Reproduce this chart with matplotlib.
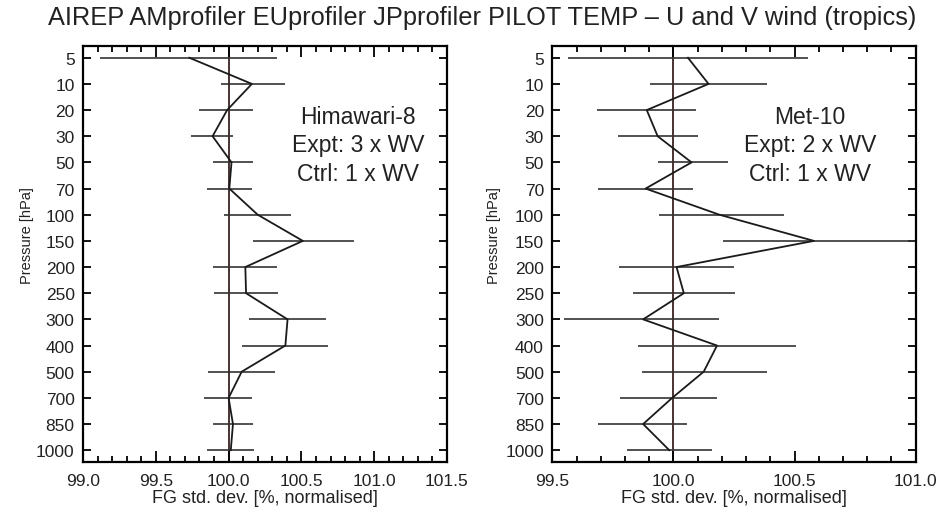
import numpy as np
import matplotlib
matplotlib.use('Agg')
import matplotlib.pyplot as plt
from matplotlib.ticker import MultipleLocator, FormatStrFormatter

plt.rcParams['font.family'] = ['Liberation Sans', 'DejaVu Sans']

# Pressure levels (categorical, evenly spaced)
levels = ['5', '10', '20', '30', '50', '70', '100', '150', '200',
          '250', '300', '400', '500', '700', '850', '1000']

# Himawari-8: mean and error bar ends
mean_h8 = [99.73, 100.16, 99.99, 99.89, 100.02, 100.005, 100.20, 100.51,
           100.115, 100.12, 100.405, 100.39, 100.09, 100.0, 100.03, 100.015]
lo_h8 = [99.12, 99.95, 99.80, 99.74, 99.89, 99.855, 99.97, 100.17,
         99.895, 99.90, 100.14, 100.095, 99.86, 99.83, 99.895, 99.855]
hi_h8 = [100.33, 100.39, 100.17, 100.03, 100.17, 100.16, 100.43, 100.86,
         100.335, 100.34, 100.67, 100.685, 100.32, 100.16, 100.165, 100.175]

# Met-10: mean and error bar ends
mean_m10 = [100.06, 100.145, 99.89, 99.935, 100.075, 99.885, 100.19, 100.58,
            100.013, 100.043, 99.875, 100.18, 100.125, 99.995, 99.875, 99.983]
lo_m10 = [99.565, 99.905, 99.685, 99.77, 99.935, 99.69, 99.94, 100.205,
          99.775, 99.835, 99.55, 99.855, 99.87, 99.78, 99.69, 99.81]
hi_m10 = [100.555, 100.385, 100.095, 100.10, 100.225, 100.08, 100.455, 101.05,
          100.25, 100.255, 100.19, 100.505, 100.385, 100.18, 100.055, 100.16]

panels = [
    (mean_h8, lo_h8, hi_h8, (99.0, 101.5), 'Himawari-8\nExpt: 3 x WV\nCtrl: 1 x WV', 0.755, -0.135),
    (mean_m10, lo_m10, hi_m10, (99.5, 101.0), 'Met-10\nExpt: 2 x WV\nCtrl: 1 x WV', 0.709, -0.14),
]

fig = plt.figure(figsize=(9.41, 5.10), dpi=100)
axes = [fig.add_axes([0.0882, 0.0922, 0.3868, 0.8157]),
        fig.add_axes([0.5869, 0.0922, 0.3862, 0.8157])]

y = np.arange(len(levels))
for ax, (mean, lo, hi, xlim, label, tx, ylx) in zip(axes, panels):
    ax.axvline(100.0, color='#3a2222', lw=1.3, zorder=1)
    ax.hlines(y, lo, hi, color='#333333', lw=1.2, zorder=2)
    ax.plot(mean, y, color='#1a1a1a', lw=1.3, zorder=3)

    ax.set_xlim(*xlim)
    ax.set_ylim(15.45, -0.45)
    ax.set_yticks(y)
    ax.set_yticklabels(levels)
    ax.xaxis.set_major_locator(MultipleLocator(0.5))
    ax.xaxis.set_minor_locator(MultipleLocator(0.1))
    ax.xaxis.set_major_formatter(FormatStrFormatter('%.1f'))
    ax.tick_params(axis='x', which='both', direction='in', top=True, labelsize=12.5,
                   pad=8, colors='black', labelcolor='#222222')
    ax.tick_params(axis='x', which='major', length=8, width=1.3)
    ax.tick_params(axis='x', which='minor', length=4.5, width=1.3)
    ax.tick_params(axis='y', direction='in', right=True, length=6, width=1.3,
                   labelsize=12.5, pad=6, labelcolor='#222222')
    for s in ax.spines.values():
        s.set_linewidth(1.6)

    ax.set_xlabel('FG std. dev. [%, normalised]', fontsize=13, color='#222222', labelpad=1)
    ax.set_ylabel('Pressure [hPa]', fontsize=10.5, color='#222222')
    ax.yaxis.set_label_coords(ylx, 0.546)
    ax.text(tx, 0.762, label, transform=ax.transAxes, ha='center', va='center',
            fontsize=16.5, color='#222222', linespacing=1.32)

fig.text(0.512, 0.965, 'AIREP AMprofiler EUprofiler JPprofiler PILOT TEMP \u2013 U and V wind (tropics)',
         ha='center', va='center', fontsize=18.3, color='#222222')

fig.savefig('out.png', dpi=100)
